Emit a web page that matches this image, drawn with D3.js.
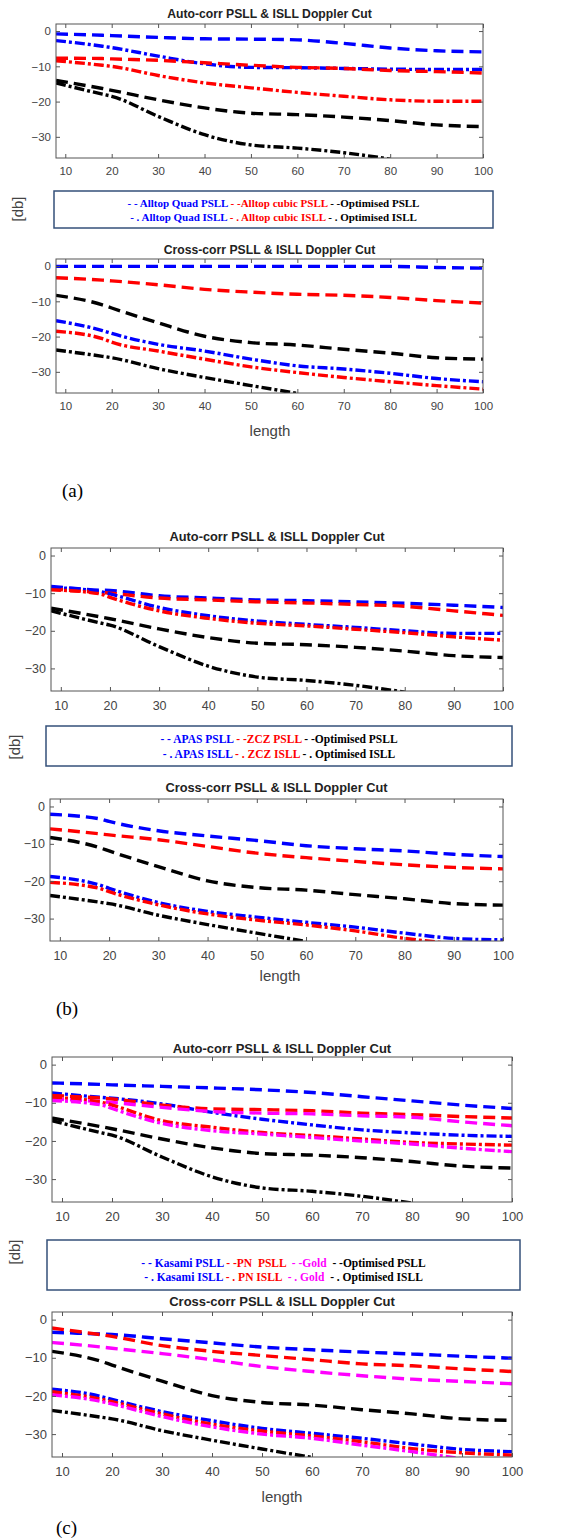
<!DOCTYPE html>
<html><head><meta charset="utf-8">
<script src="https://cdn.jsdelivr.net/npm/d3@7"></script>
<style>body{margin:0;background:#fff}svg{display:block}</style>
</head><body>
<svg id="c" width="576" height="1539"></svg>
<script>
// ---------- DATA ----------
const lengths = [8, 18, 20, 30, 40, 50, 60, 70, 80, 90, 100];
const xTicks = [10, 20, 30, 40, 50, 60, 70, 80, 90, 100];
const yTicks = [0, -10, -20, -30];

// Optimised (common to all panels)
const optAutoPSLL  = [-14, -16.3, -16.8, -19.5, -21.8, -23.3, -23.7, -24.4, -25.4, -26.6, -27.1];
const optAutoISLL  = [-14.7, -17.9, -18.5, -24.2, -29.4, -32.3, -33.2, -34.5, -36.3, null, null];
const optCrossPSLL = [-8.3, -11, -11.9, -16.1, -19.9, -21.7, -22.4, -23.6, -24.7, -26, -26.4];
const optCrossISLL = [-23.8, -25.6, -26, -29.1, -31.6, -33.9, -36.1, null, null, null, null];

// (a) Alltop
const quadAutoPSLL   = [-0.8, -1.2, -1.3, -1.8, -2.2, -2.3, -2.5, -3.5, -4.8, -5.6, -5.9];
const quadAutoISLL   = [-2.7, -4.3, -4.7, -7.1, -9.3, -10.3, -10.4, -10.6, -10.8, -10.9, -10.9];
const cubicAutoPSLL  = [-7.7, -7.8, -7.9, -8.3, -9, -9.7, -10.3, -10.6, -11.2, -11.5, -11.9];
const cubicAutoISLL  = [-8.4, -9.7, -10, -12.6, -14.7, -16.1, -17.4, -18.5, -19.5, -19.9, -19.9];
const quadCrossPSLL  = [-0.1, -0.1, -0.1, -0.1, -0.1, -0.1, -0.1, -0.1, -0.1, -0.4, -0.6];
const cubicCrossPSLL = [-3.3, -4, -4.2, -5.3, -6.6, -7.4, -8, -8.3, -8.9, -9.8, -10.5];
const quadCrossISLL  = [-15.5, -18.3, -19.1, -22.2, -24.1, -26.4, -28.3, -29.2, -30.4, -31.9, -32.8];
const cubicCrossISLL = [-18.5, -20.6, -21.6, -24.1, -26.4, -28.6, -30.2, -31.6, -32.8, -33.9, -34.9];

// (b) APAS / ZCZ
const apasAutoPSLL  = [-8.2, -9.2, -9.3, -10.7, -11.3, -11.8, -12, -12.3, -12.7, -13.2, -13.8];
const zczAutoPSLL   = [-8.9, -9.8, -10, -11.3, -11.8, -12.3, -12.6, -13, -13.5, -14.7, -15.9];
const apasAutoISLL  = [-8.5, -9.6, -10.2, -13.8, -16, -17.4, -18.3, -19.1, -20, -20.7, -20.7];
const zczAutoISLL   = [-9.1, -10.2, -11.1, -14.7, -16.7, -18, -18.7, -19.6, -20.5, -21.6, -22.5];
const apasCrossPSLL = [-2.1, -3.3, -4, -6.5, -7.9, -9.1, -10.5, -11.3, -11.9, -12.8, -13.4];
const zczCrossPSLL  = [-6, -7.3, -7.6, -8.9, -10.7, -12.5, -13.7, -14.7, -15.6, -16.3, -16.7];
const apasCrossISLL = [-18.75, -21, -21.9, -25.7, -28.1, -29.6, -31, -32.3, -33.9, -35.3, -35.7];
const zczCrossISLL  = [-20.3, -21.9, -22.8, -26.3, -28.75, -30.4, -31.7, -33.3, -35.3, -36.7, null];

// (c) Kasami / PN / Gold
const kasAutoPSLL   = [-4.8, -5.2, -5.3, -5.7, -6.1, -6.6, -7.3, -8.4, -9.5, -10.6, -11.5];
const kasAutoISLL   = [-7.4, -8.6, -8.8, -10.3, -12.5, -14.3, -15.8, -17.1, -17.9, -18.5, -18.8];
const pnAutoPSLL    = [-8.1, -8.8, -9, -10.6, -11.6, -11.8, -12.1, -12.7, -13.1, -13.6, -14];
const pnAutoISLL    = [-8.6, -9.9, -10.6, -14.7, -16.4, -17.8, -18.6, -19.5, -20.4, -20.8, -21.1];
const goldAutoPSLL  = [-9, -9.7, -9.9, -11.2, -12.3, -12.7, -12.9, -13.4, -13.8, -15, -16];
const goldAutoISLL  = [-9.4, -10.6, -11.5, -15.4, -17.3, -18.2, -19.1, -20, -20.8, -21.9, -22.8];
const kasCrossPSLL  = [-3.3, -3.8, -3.9, -5, -6.1, -7.2, -7.9, -8.5, -9, -9.6, -10.1];
const pnCrossPSLL   = [-2.2, -4, -4.4, -6.8, -8.3, -9.4, -10.5, -11.6, -12.1, -12.9, -13.6];
const goldCrossPSLL = [-6, -7.2, -7.5, -8.9, -10.5, -12.3, -13.6, -14.7, -15.6, -16.2, -16.8];
const kasCrossISLL  = [-18.2, -20.2, -20.9, -24.1, -26.5, -28.5, -29.8, -31.1, -32.6, -34, -34.6];
const pnCrossISLL   = [-18.9, -20.9, -21.5, -24.7, -27.4, -29.2, -30.5, -32, -33.8, -34.9, -35.5];
const goldCrossISLL = [-19.7, -21.5, -22.1, -25.4, -28.1, -30, -31.1, -32.9, -34.6, -36.5, null];

const titleAuto = "Auto-corr PSLL & ISLL Doppler Cut";
const titleCross = "Cross-corr PSLL & ISLL Doppler Cut";

const legendA = [["- - Alltop Quad PSLL", " - -Alltop cubic PSLL", " - -Optimised PSLL"],
                 ["- . Alltop Quad ISLL", " - . Alltop cubic ISLL", " - . Optimised ISLL"]];
const legendB = [["- - APAS PSLL", " - -ZCZ PSLL", " - -Optimised PSLL"],
                 ["- . APAS ISLL", " - . ZCZ ISLL", " - . Optimised ISLL"]];
const legendC = [["- - Kasami PSLL", " - -PN  PSLL", "  - -Gold", "  - -Optimised PSLL"],
                 ["- . Kasami ISLL", " - . PN ISLL", "  - . Gold", "  - . Optimised ISLL"]];

// ---------- STYLE ----------
const BLUE = "#0000ff", RED = "#ff0000", MAG = "#ff00ff", BLK = "#000000";
const DASH = "12,6", DASHDOT = "10,3,3,3";

const svg = d3.select("#c");
const defs = svg.append("defs");
let clipId = 0;

function plot(box, title, series, fs) {
  const [x0, x1, y0, y1] = box;
  const x = d3.scaleLinear().domain([8, 100]).range([x0, x1]);
  const y = d3.scaleLinear().domain([-36, 2]).range([y1, y0]);
  const id = "clip" + (clipId++);
  defs.append("clipPath").attr("id", id).append("rect")
    .attr("x", x0).attr("y", y0).attr("width", x1 - x0).attr("height", y1 - y0);

  const g = svg.append("g");
  const line = d3.line().defined(d => d[1] != null)
    .x(d => x(d[0])).y(d => y(d[1])).curve(d3.curveMonotoneX);
  const lg = g.append("g").attr("clip-path", `url(#${id})`);
  series.forEach(s => {
    lg.append("path").attr("d", line(lengths.map((l, i) => [l, s.v[i]])))
      .attr("fill", "none").attr("stroke", s.c).attr("stroke-width", 3.4)
      .attr("stroke-dasharray", s.d);
  });

  const axStyle = sel => {
    sel.select(".domain").remove();
    sel.selectAll(".tick line").attr("stroke", "#555");
    sel.selectAll(".tick text").attr("fill", "#444")
      .style("font-family", "'Liberation Sans', Arial, sans-serif").style("font-size", fs.tick + "px");
  };
  g.append("g").attr("transform", `translate(0,${y1})`)
    .call(d3.axisBottom(x).tickValues(xTicks).tickSize(-4).tickPadding(fs.padX))
    .call(axStyle);
  g.append("g").attr("transform", `translate(0,${y0})`)
    .call(d3.axisTop(x).tickValues(xTicks).tickSize(-4).tickFormat(""))
    .call(axStyle);
  g.append("g").attr("transform", `translate(${x0},0)`)
    .call(d3.axisLeft(y).tickValues(yTicks).tickSize(-4).tickPadding(5))
    .call(axStyle);
  g.append("g").attr("transform", `translate(${x1},0)`)
    .call(d3.axisRight(y).tickValues(yTicks).tickSize(-4).tickFormat(""))
    .call(axStyle);
  g.append("rect").attr("x", x0).attr("y", y0).attr("width", x1 - x0).attr("height", y1 - y0)
    .attr("fill", "none").attr("stroke", "#555").attr("stroke-width", 1);

  g.append("text").attr("x", (x0 + x1) / 2).attr("y", fs.titleY).attr("dy", "0.35em")
    .attr("text-anchor", "middle").attr("fill", "#222")
    .style("font-family", "'Liberation Sans', Arial, sans-serif").style("font-weight", "bold")
    .style("font-size", fs.title + "px").text(title);
}

function legend(box, lines, colors, ys, fsz) {
  const [x0, x1, y0, y1] = box;
  svg.append("rect").attr("x", x0).attr("y", y0).attr("width", x1 - x0).attr("height", y1 - y0)
    .attr("fill", "#fff").attr("stroke", "#34507a").attr("stroke-width", 1.5);
  lines.forEach((segs, li) => {
    const t = svg.append("text").attr("x", (x0 + x1) / 2).attr("y", ys[li]).attr("dy", "0.35em")
      .attr("text-anchor", "middle").attr("xml:space", "preserve")
      .style("white-space", "pre")
      .style("font-family", "'Liberation Serif', 'Times New Roman', serif").style("font-weight", "bold")
      .style("font-size", fsz + "px");
    segs.forEach((s, i) => t.append("tspan").attr("fill", colors[i]).text(s));
  });
}

function dbLabel(xp, yp) {
  svg.append("text").attr("transform", `translate(${xp},${yp}) rotate(-90)`).attr("dy", "0.35em")
    .attr("text-anchor", "middle").attr("fill", "#444")
    .style("font-family", "'Liberation Sans', Arial, sans-serif").style("font-size", "15px").text("[db]");
}
function lengthLabel(xp, yp) {
  svg.append("text").attr("x", xp).attr("y", yp).attr("dy", "0.35em").attr("text-anchor", "middle")
    .attr("fill", "#444").style("font-family", "'Liberation Sans', Arial, sans-serif")
    .style("font-size", "15px").text("length");
}
function panelLabel(xp, yp, t) {
  svg.append("text").attr("x", xp).attr("y", yp).attr("dy", "0.35em").attr("fill", "#000")
    .style("font-family", "'Liberation Serif', 'Times New Roman', serif").style("font-size", "19px").text(t);
}

// ---------- PANEL (a) ----------
plot([56, 483, 24, 158], titleAuto, [
  {v: quadAutoPSLL, c: BLUE, d: DASH}, {v: quadAutoISLL, c: BLUE, d: DASHDOT},
  {v: cubicAutoPSLL, c: RED, d: DASH}, {v: cubicAutoISLL, c: RED, d: DASHDOT},
  {v: optAutoPSLL, c: BLK, d: DASH}, {v: optAutoISLL, c: BLK, d: DASHDOT}],
  {tick: 11.5, title: 12.2, titleY: 14, padX: 9});
legend([54, 493, 191, 228], legendA, [BLUE, RED, BLK], [203, 217], 11);
dbLabel(18, 209);
plot([56, 483, 259, 393], titleCross, [
  {v: quadCrossPSLL, c: BLUE, d: DASH}, {v: cubicCrossPSLL, c: RED, d: DASH},
  {v: optCrossPSLL, c: BLK, d: DASH}, {v: quadCrossISLL, c: BLUE, d: DASHDOT},
  {v: cubicCrossISLL, c: RED, d: DASHDOT}, {v: optCrossISLL, c: BLK, d: DASHDOT}],
  {tick: 11.5, title: 12.2, titleY: 250, padX: 9});
lengthLabel(270, 431);
panelLabel(62, 490, "(a)");

// ---------- PANEL (b) ----------
plot([51, 503, 548, 691], titleAuto, [
  {v: apasAutoPSLL, c: BLUE, d: DASH}, {v: zczAutoPSLL, c: RED, d: DASH},
  {v: apasAutoISLL, c: BLUE, d: DASHDOT}, {v: zczAutoISLL, c: RED, d: DASHDOT},
  {v: optAutoPSLL, c: BLK, d: DASH}, {v: optAutoISLL, c: BLK, d: DASHDOT}],
  {tick: 12.5, title: 12.8, titleY: 537, padX: 10});
legend([46, 512, 726, 766], legendB, [BLUE, RED, BLK], [739, 754], 11.5);
dbLabel(15, 747);
plot([50, 503, 799, 941], titleCross, [
  {v: apasCrossPSLL, c: BLUE, d: DASH}, {v: zczCrossPSLL, c: RED, d: DASH},
  {v: optCrossPSLL, c: BLK, d: DASH}, {v: apasCrossISLL, c: BLUE, d: DASHDOT},
  {v: zczCrossISLL, c: RED, d: DASHDOT}, {v: optCrossISLL, c: BLK, d: DASHDOT}],
  {tick: 12.5, title: 12.8, titleY: 788, padX: 10});
lengthLabel(280, 976);
panelLabel(56, 1008, "(b)");

// ---------- PANEL (c) ----------
plot([52, 512, 1057, 1202], titleAuto, [
  {v: kasAutoPSLL, c: BLUE, d: DASH}, {v: kasAutoISLL, c: BLUE, d: DASHDOT},
  {v: pnAutoPSLL, c: RED, d: DASH}, {v: goldAutoPSLL, c: MAG, d: DASH},
  {v: pnAutoISLL, c: RED, d: DASHDOT}, {v: goldAutoISLL, c: MAG, d: DASHDOT},
  {v: optAutoPSLL, c: BLK, d: DASH}, {v: optAutoISLL, c: BLK, d: DASHDOT}],
  {tick: 13, title: 13, titleY: 1048, padX: 10});
legend([47, 520, 1240, 1290], legendC, [BLUE, RED, MAG, BLK], [1263, 1277], 11.5);
dbLabel(15, 1252);
plot([52, 512, 1312, 1457], titleCross, [
  {v: kasCrossPSLL, c: BLUE, d: DASH}, {v: pnCrossPSLL, c: RED, d: DASH},
  {v: goldCrossPSLL, c: MAG, d: DASH}, {v: optCrossPSLL, c: BLK, d: DASH},
  {v: kasCrossISLL, c: BLUE, d: DASHDOT}, {v: pnCrossISLL, c: RED, d: DASHDOT},
  {v: goldCrossISLL, c: MAG, d: DASHDOT}, {v: optCrossISLL, c: BLK, d: DASHDOT}],
  {tick: 13, title: 13, titleY: 1301, padX: 10});
lengthLabel(282, 1497);
panelLabel(56, 1527, "(c)");
</script>
</body></html>
